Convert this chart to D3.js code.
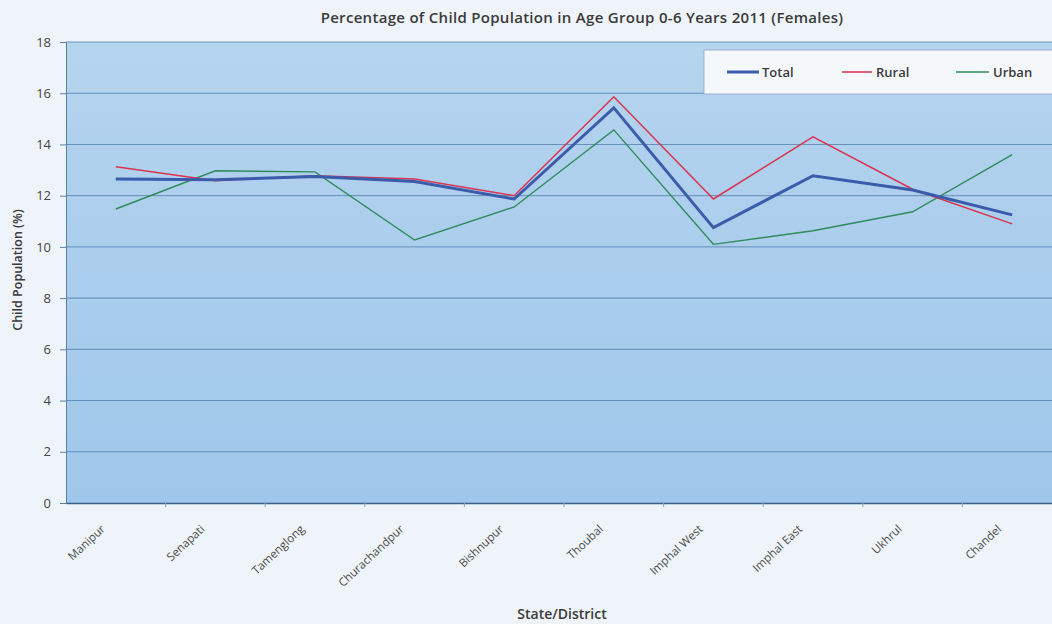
<!DOCTYPE html>
<html><head><meta charset="utf-8">
<script src="https://cdn.jsdelivr.net/npm/d3@7/dist/d3.min.js"></script>
<style>body{margin:0;background:#eef4f9;}svg{display:block;font-family:"Open Sans","DejaVu Sans",sans-serif;} svg text{font-family:"Open Sans","DejaVu Sans",sans-serif;}</style>
</head><body>
<svg id="c" width="1052" height="624"></svg>
<script>
const categories = ["Manipur","Senapati","Tamenglong","Churachandpur","Bishnupur","Thoubal","Imphal West","Imphal  East","Ukhrul","Chandel"];
const total = [12.65,12.62,12.75,12.55,11.87,15.43,10.75,12.78,12.22,11.25];
const rural = [13.13,12.58,12.78,12.65,12.0,15.86,11.87,14.3,12.25,10.9];
const urban = [11.48,12.97,12.93,10.27,11.56,14.57,10.1,10.63,11.37,13.6];
const yTicks = [0,2,4,6,8,10,12,14,16,18];
const seriesNames = ["Total","Rural","Urban"];

const FONT = '"Open Sans","DejaVu Sans",sans-serif';
const svg = d3.select("#c");
const m = {l:66, t:42, r:1062, b:503};
const x = d3.scaleBand().domain(categories).range([m.l, m.r]);
const y = d3.scaleLinear().domain([0,18]).range([m.b, m.t]);

const defs = svg.append("defs");
const g = defs.append("linearGradient").attr("id","bg").attr("x1",0).attr("y1",0).attr("x2",0).attr("y2",1);
g.append("stop").attr("offset","0%").attr("stop-color","#b5d4ef");
g.append("stop").attr("offset","100%").attr("stop-color","#9fc7ea");

svg.append("rect").attr("x",m.l).attr("y",m.t).attr("width",m.r-m.l).attr("height",m.b-m.t).attr("fill","url(#bg)");

// gridlines
svg.append("g").selectAll("line").data(yTicks.filter(d=>d>0)).join("line")
  .attr("x1",m.l).attr("x2",m.r).attr("y1",d=>y(d)).attr("y2",d=>y(d))
  .attr("stroke","#3f6e9c").attr("stroke-width",0.8).attr("opacity",0.85);

// y axis
const ya = svg.append("g").attr("transform",`translate(${m.l},0)`)
  .call(d3.axisLeft(y).tickValues(yTicks).tickSize(6).tickPadding(9));
ya.attr("font-family",FONT);
ya.select(".domain").attr("stroke","#5a7fa6");
ya.selectAll(".tick line").attr("stroke","#5a7fa6");
ya.selectAll("text").attr("font-size",13).attr("fill","#444");

// x axis
const xa = svg.append("g").attr("transform",`translate(0,${m.b})`)
  .call(d3.axisBottom(x).tickSize(0).tickPadding(0));
xa.attr("font-family",FONT);
xa.select(".domain").attr("stroke","#3d5f88").attr("stroke-width",1.5);
xa.selectAll("text").attr("font-size",11.5).attr("fill","#4a4a4a")
  .attr("text-anchor","end").attr("dy",0)
  .attr("transform","translate(-10,27) rotate(-43)");
svg.append("g").selectAll("line").data(categories.slice(1)).join("line")
  .attr("x1",d=>x(d)).attr("x2",d=>x(d)).attr("y1",m.b).attr("y2",m.b+4)
  .attr("stroke","#8aa6c4");

// lines
const line = d3.line().x((d,i)=>x(categories[i])+x.bandwidth()/2).y(d=>y(d));
const styles = [
  {data:urban, color:"#2f8a5c", w:1.4},
  {data:rural, color:"#d9334f", w:1.5},
  {data:total, color:"#3a5caa", w:3}
];
styles.forEach(s=>{
  svg.append("path").datum(s.data).attr("d",line).attr("fill","none")
    .attr("stroke",s.color).attr("stroke-width",s.w).attr("stroke-linejoin","miter");
});

// legend
svg.append("rect").attr("x",704).attr("y",50).attr("width",360).attr("height",44)
  .attr("fill","#f4f8fb").attr("stroke","#8fa5bb").attr("stroke-width",0.8);
const leg = [
  {name:seriesNames[0], color:"#3a5caa", w:3, x1:727, x2:759, tx:762},
  {name:seriesNames[1], color:"#d9334f", w:1.5, x1:842, x2:872, tx:876},
  {name:seriesNames[2], color:"#2f8a5c", w:1.4, x1:956, x2:989, tx:993}
];
leg.forEach(l=>{
  svg.append("line").attr("x1",l.x1).attr("x2",l.x2).attr("y1",72).attr("y2",72)
    .attr("stroke",l.color).attr("stroke-width",l.w);
  svg.append("text").attr("x",l.tx).attr("y",77).attr("font-size",13).attr("font-weight",600)
    .attr("fill","#3a3a3a").text(l.name);
});

// titles
svg.append("text").attr("x",582).attr("y",23).attr("text-anchor","middle")
  .attr("font-size",15).attr("font-weight",600).attr("fill","#3a3a3a").attr("letter-spacing",0.3)
  .text("Percentage of Child Population in Age Group 0-6 Years 2011 (Females)");
svg.append("text").attr("x",562).attr("y",619).attr("text-anchor","middle")
  .attr("font-size",14).attr("font-weight",600).attr("fill","#3a3a3a").text("State/District");
svg.append("text").attr("transform","translate(22,270) rotate(-90)").attr("text-anchor","middle")
  .attr("font-size",12.5).attr("font-weight",600).attr("fill","#3a3a3a").text("Child Population (%)");
</script>
</body></html>
